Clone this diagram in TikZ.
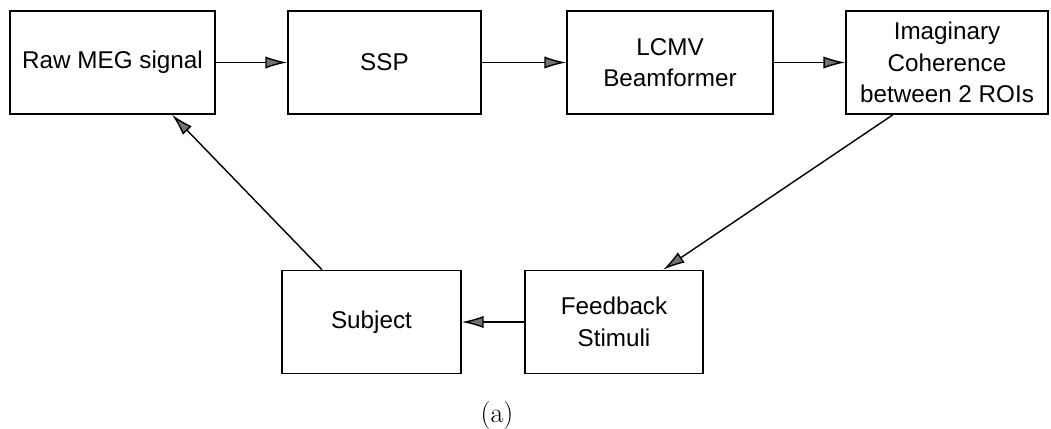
\documentclass[tikz,border=0pt]{standalone}
\usepackage{fontspec}
\newfontfamily\boxfont{Liberation Sans}
\usepackage{tikz}
\usetikzlibrary{arrows,arrows.meta,shapes,positioning}

\tikzset{
    stage/.style={draw, line width=0.8pt, minimum height=2.06cm, align=center,
        font=\boxfont\fontsize{13.8}{18}\selectfont},
    flow/.style={-{Latex[length=12.5pt,width=7pt,fill=black!55]}, line width=0.8pt}
}

\begin{document}
\begin{tikzpicture}
        \useasboundingbox (0,0) rectangle (21.02,8.58);

        \node[stage, minimum width=4.1cm] (raw) at (2.25,7.33) {Raw MEG signal};
        \node[stage, minimum width=3.86cm] (ssp) at (7.69,7.33) {SSP};
        \node[stage, minimum width=4.12cm] (lcmv) at (13.4,7.33) {LCMV\\Beamformer};
        \node[stage, minimum width=4.04cm] (imag) at (18.94,7.33) {Imaginary\\Coherence\\between 2 ROIs};

        \node[stage, minimum width=3.58cm] (subj) at (7.43,2.14) {Subject};
        \node[stage, minimum width=3.56cm] (fb) at (12.28,2.14) {Feedback\\Stimuli};

        \draw[flow] (raw) -- (ssp);
        \draw[flow] (ssp) -- (lcmv);
        \draw[flow] (lcmv) -- (imag);
        \draw[flow] ([xshift=-1.08cm]imag.south) -- ([xshift=0.98cm]fb.north);
        \draw[flow] (fb) -- (subj);
        \draw[flow] ([xshift=-0.99cm]subj.north) -- ([xshift=1.19cm]raw.south);

        \node (cap) at (9.94,0.28) {\fontsize{16}{18}\selectfont (a)};
    \end{tikzpicture}
\end{document}
